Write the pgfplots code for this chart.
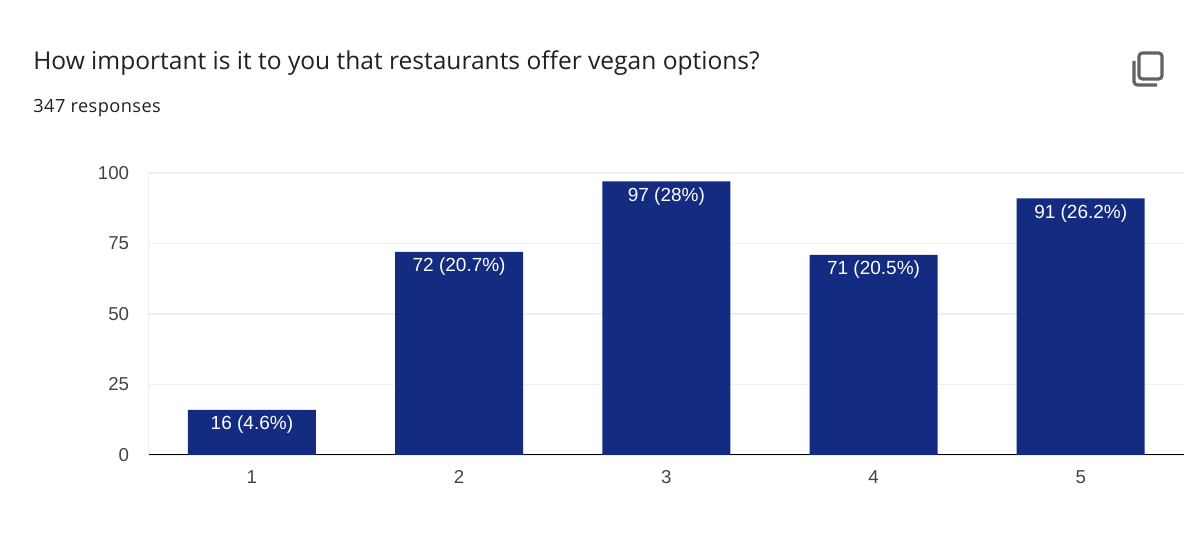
\documentclass[border=0pt]{standalone}
\usepackage{fontspec}
\usepackage{pgfplots}
\pgfplotsset{compat=1.18}
\setmainfont{Liberation Sans}
\newfontfamily\titlefont{Open Sans}
\newfontfamily\subfont[LetterSpace=2.5]{Open Sans}
\definecolor{barblue}{HTML}{132B80}
\definecolor{gridgray}{HTML}{EFEFEF}
\definecolor{ticktext}{HTML}{444444}
\definecolor{titletext}{HTML}{202124}
\definecolor{icongray}{HTML}{5F6368}
\begin{document}
\begin{tikzpicture}
\path[use as bounding box,fill=white] (0,0) rectangle (720pt,330.6pt);
\begin{scope}[x=0.6pt,y=-0.6pt,yshift=330.6pt]
\node[anchor=base west,inner sep=0pt,font=\titlefont\fontsize{14.73}{18}\selectfont,text=titletext] at (33,70) {How important is it to you that restaurants offer vegan options?};
\node[anchor=base west,inner sep=0pt,font=\subfont\fontsize{10.9}{13}\selectfont,text=titletext] at (33,113) {347 responses};
\draw[icongray,line width=1.9pt,rounded corners=2pt] (1139,53) rectangle (1162,79);
\draw[icongray,line width=1.9pt,rounded corners=2pt] (1134,61) -- (1134,85) -- (1157,85);
\end{scope}
\begin{axis}[
  at={(89pt,57.6pt)}, anchor=south west,
  scale only axis, width=621.6pt, height=169.2pt,
  xmin=-0.5, xmax=4.5, ymin=0, ymax=100,
  ybar, bar width=76.8pt,
  axis lines=left,
  x axis line style={black,line width=0.6pt,-},
  y axis line style={gridgray,line width=0.7pt,-},
  xtick={0,1,2,3,4}, xticklabels={1,2,3,4,5},
  ytick={0,25,50,75,100},
  major tick length=0pt,
  ymajorgrids, grid style={gridgray,line width=0.7pt},
  tick label style={font=\fontsize{11.2}{13}\selectfont,text=ticktext},
  /pgf/number format/assume math mode=true,
  xticklabel style={yshift=-5.5pt,text height=8pt},
  yticklabel style={xshift=-8pt},
  nodes near coords, point meta=explicit symbolic,
  nodes near coords style={anchor=north,yshift=0pt,text=white,font=\fontsize{11.4}{13}\selectfont},
]
\addplot[fill=barblue,draw=none,bar shift=0pt] coordinates {
  (0,16) [16 (4.6\%)]
  (1,72) [72 (20.7\%)]
  (2,97) [97 (28\%)]
  (3,71) [71 (20.5\%)]
  (4,91) [91 (26.2\%)]
};
\end{axis}
\end{tikzpicture}
\end{document}
